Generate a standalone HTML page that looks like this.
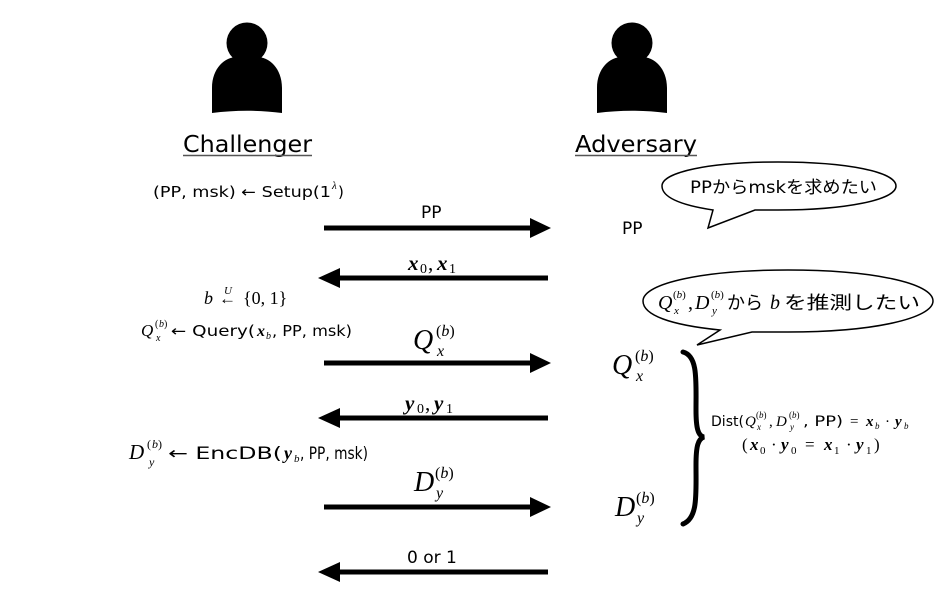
<!DOCTYPE html>
<html><head><meta charset="utf-8"><style>
html,body{margin:0;padding:0;background:#fff;}
svg{display:block;}
.s{font-family:"DejaVu Sans","Liberation Sans","Noto Sans CJK JP",sans-serif;}
.m{font-family:"Liberation Serif",serif;font-style:italic;}
.r{font-family:"Liberation Serif",serif;}
.b{font-family:"Liberation Serif",serif;font-style:italic;font-weight:bold;}
</style></head><body>
<svg width="938" height="610" viewBox="0 0 938 610" xmlns="http://www.w3.org/2000/svg">
<defs>
<g id="person">
<circle cx="0" cy="0" r="20.5" fill="#000"/>
<path d="M-35,70 L-35,45 C-35,25 -22,14 -10,14 L10,14 C22,14 35,25 35,45 L35,70 C12,67 -12,67 -35,70 Z" fill="#000"/>
</g>
</defs>
<use href="#person" x="247" y="43"/>
<use href="#person" x="632" y="43"/>
<text x="183" y="152" class="s" font-size="23" textLength="129" lengthAdjust="spacingAndGlyphs">Challenger</text>
<line x1="183" y1="155.5" x2="312" y2="155.5" stroke="#555" stroke-width="1.5"/>
<text x="575" y="152" class="s" font-size="23" textLength="122" lengthAdjust="spacingAndGlyphs">Adversary</text>
<line x1="575" y1="155.5" x2="697" y2="155.5" stroke="#555" stroke-width="1.5"/>

<!-- Setup -->
<text x="153" y="197" class="s" font-size="15" textLength="178" lengthAdjust="spacingAndGlyphs">(PP, msk) ← Setup(1</text>
<text x="332" y="189" class="m" font-size="11">λ</text>
<text x="338" y="197" class="s" font-size="15">)</text>
<!-- b <- {0,1} -->
<text x="204" y="304" class="m" font-size="18">b</text>
<text x="219" y="304" class="r" font-size="17">←</text>
<text x="224" y="294" class="m" font-size="11">U</text>
<text x="243" y="304" class="r" font-size="18">{0, 1}</text>
<!-- Query -->
<text x="141" y="336" class="m" font-size="17">Q</text>
<text x="155" y="327" class="r" font-size="10">(</text><text x="159" y="327" class="m" font-size="10">b</text><text x="164" y="327" class="r" font-size="10">)</text>
<text x="156" y="341" class="m" font-size="10">x</text>
<text x="171" y="336" class="s" font-size="15" textLength="84" lengthAdjust="spacingAndGlyphs">← Query(</text>
<text x="257" y="336" class="b" font-size="16">x</text>
<text x="266" y="339" class="m" font-size="10">b</text>
<text x="272" y="336" class="s" font-size="15" textLength="80" lengthAdjust="spacingAndGlyphs">, PP, msk)</text>
<!-- EncDB -->
<text x="129" y="459" class="m" font-size="21">D</text>
<text x="147" y="448" class="r" font-size="12">(</text><text x="152" y="448" class="m" font-size="12">b</text><text x="158" y="448" class="r" font-size="12">)</text>
<text x="149" y="466" class="m" font-size="12">y</text>
<text x="168" y="459" class="s" font-size="17" textLength="114" lengthAdjust="spacingAndGlyphs">← EncDB(</text>
<text x="284" y="459" class="b" font-size="18">y</text>
<text x="294" y="462" class="m" font-size="11">b</text>
<text x="300" y="459" class="s" font-size="17" textLength="68" lengthAdjust="spacingAndGlyphs">, PP, msk)</text>

<!-- arrows -->
<g fill="#000" stroke="#000">
<line x1="324" y1="228" x2="532" y2="228" stroke-width="5"/><polygon points="530,218 551,228 530,238" stroke="none"/>
<line x1="548" y1="278" x2="338" y2="278" stroke-width="5"/><polygon points="340,268 318,278 340,288" stroke="none"/>
<line x1="324" y1="363" x2="532" y2="363" stroke-width="5"/><polygon points="530,353 551,363 530,373" stroke="none"/>
<line x1="548" y1="418" x2="338" y2="418" stroke-width="5"/><polygon points="340,408 318,418 340,428" stroke="none"/>
<line x1="324" y1="507" x2="532" y2="507" stroke-width="5"/><polygon points="530,497 551,507 530,517" stroke="none"/>
<line x1="548" y1="572" x2="338" y2="572" stroke-width="5"/><polygon points="340,562 318,572 340,582" stroke="none"/>
</g>
<text x="421" y="218" class="s" font-size="17">PP</text>
<text x="408" y="270" class="b" font-size="21">x</text><text x="420" y="273" class="r" font-size="14">0</text><text x="428" y="270" class="r" font-size="21">,</text>
<text x="437" y="270" class="b" font-size="21">x</text><text x="449" y="273" class="r" font-size="14">1</text>
<text x="405" y="410" class="b" font-size="21">y</text><text x="417" y="413" class="r" font-size="14">0</text><text x="425" y="410" class="r" font-size="21">,</text>
<text x="434" y="410" class="b" font-size="21">y</text><text x="446" y="413" class="r" font-size="14">1</text>

<g id="qbig">
<text x="413" y="349" class="m" font-size="28">Q</text>
<text x="436" y="336" class="r" font-size="16">(<tspan class="m">b</tspan>)</text>
<text x="437" y="356" class="m" font-size="16">x</text>
</g>
<g id="dbig">
<text x="414" y="491" class="m" font-size="28">D</text>
<text x="435" y="478" class="r" font-size="16">(<tspan class="m">b</tspan>)</text>
<text x="436" y="498" class="m" font-size="16">y</text>
</g>
<use href="#qbig" x="199" y="25"/>
<use href="#dbig" x="201" y="25"/>
<text x="407" y="563" class="s" font-size="17">0 or 1</text>
<text x="622" y="234" class="s" font-size="17">PP</text>

<!-- bubbles -->
<path d="M713,210 C680,205 662,197 662,186 C662,172 710,162 778,162 C848,162 896,172 896,186 C896,200 845,210 778,210 L755,210 L708,228 Z" fill="#fff" stroke="#000" stroke-width="1.5"/>
<text x="690" y="193" class="s" font-size="17" textLength="187" lengthAdjust="spacingAndGlyphs">PPからmskを求めたい</text>
<path d="M720,330 C670,325 643,315 643,301 C643,283 705,270 788,270 C872,270 933,283 933,301 C933,318 875,332 788,332 L752,332 L697,345 Z" fill="#fff" stroke="#000" stroke-width="1.5"/>
<text x="658" y="309" class="m" font-size="20">Q</text>
<text x="673" y="298" class="r" font-size="11">(<tspan class="m">b</tspan>)</text>
<text x="674" y="314" class="m" font-size="11">x</text>
<text x="688" y="309" class="r" font-size="20">,</text>
<text x="695" y="309" class="m" font-size="20">D</text>
<text x="711" y="298" class="r" font-size="11">(<tspan class="m">b</tspan>)</text>
<text x="712" y="314" class="m" font-size="11">y</text>
<text x="727" y="309" class="s" font-size="18">から</text>
<text x="770" y="309" class="m" font-size="20">b</text>
<text x="784" y="309" class="s" font-size="18" textLength="136" lengthAdjust="spacingAndGlyphs">を推測したい</text>

<!-- brace -->
<path d="M683,352 C698,356 696,380 696,410 C696,428 698,436 704,437 C698,439 696,446 696,465 C696,495 698,518 683,524" fill="none" stroke="#000" stroke-width="5" stroke-linecap="round"/>

<!-- Dist -->
<text x="711" y="426" class="s" font-size="14" textLength="33" lengthAdjust="spacingAndGlyphs">Dist(</text>
<text x="745" y="426" class="m" font-size="15">Q</text>
<text x="756" y="418" class="r" font-size="9">(<tspan class="m">b</tspan>)</text>
<text x="757" y="430" class="m" font-size="9">x</text>
<text x="769" y="426" class="r" font-size="15">,</text>
<text x="776" y="426" class="m" font-size="15">D</text>
<text x="789" y="418" class="r" font-size="9">(<tspan class="m">b</tspan>)</text>
<text x="790" y="430" class="m" font-size="9">y</text>
<text x="803" y="426" class="s" font-size="14" textLength="40" lengthAdjust="spacingAndGlyphs">, PP)</text>
<text x="850" y="426" class="r" font-size="15">=</text>
<text x="866" y="426" class="b" font-size="15">x</text><text x="875" y="429" class="m" font-size="9">b</text>
<text x="885" y="426" class="r" font-size="15">·</text>
<text x="895" y="426" class="b" font-size="15">y</text><text x="904" y="429" class="m" font-size="9">b</text>

<text x="742" y="450" class="r" font-size="17">(</text>
<text x="750" y="450" class="b" font-size="17">x</text><text x="760" y="454" class="r" font-size="11">0</text>
<text x="771" y="450" class="r" font-size="17">·</text>
<text x="781" y="450" class="b" font-size="17">y</text><text x="791" y="454" class="r" font-size="11">0</text>
<text x="805" y="450" class="r" font-size="17">=</text>
<text x="824" y="450" class="b" font-size="17">x</text><text x="834" y="454" class="r" font-size="11">1</text>
<text x="846" y="450" class="r" font-size="17">·</text>
<text x="856" y="450" class="b" font-size="17">y</text><text x="866" y="454" class="r" font-size="11">1</text>
<text x="874" y="450" class="r" font-size="17">)</text>
</svg>
</body></html>
